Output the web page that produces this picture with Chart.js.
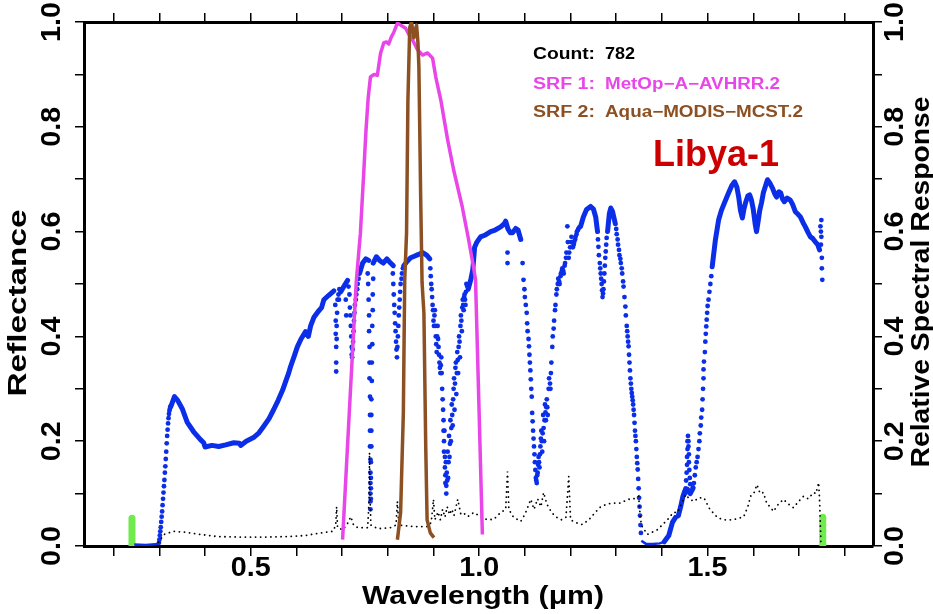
<!DOCTYPE html>
<html>
<head>
<meta charset="utf-8">
<script src="https://cdn.jsdelivr.net/npm/chart.js@4.4.1/dist/chart.umd.min.js"></script>
<style>
    body { margin: 0; background: #fff; }
    #wrap { width: 933px; height: 614px; position: relative; }
</style>
</head>
<body>
<div id="wrap"><canvas id="srfChart"></canvas></div>
<script>
// Axis ticks (every 0.1) and labelled values
const xTicks = [0.2, 0.3, 0.4, 0.5, 0.6, 0.7, 0.8, 0.9, 1.0, 1.1, 1.2, 1.3, 1.4, 1.5, 1.6, 1.7, 1.8];
const xLabels = [0.5, 1.0, 1.5];
const yTicks = [0, 0.1, 0.2, 0.3, 0.4, 0.5, 0.6, 0.7, 0.8, 0.9, 1.0];
const yLabels = [0, 0.2, 0.4, 0.6, 0.8, 1.0];

// Reflectance spectrum, dense parts (drawn as a thick line), null = gap
const reflCurve = [
    [0.325, 0.266], [0.333, 0.285], [0.340, 0.278], [0.350, 0.262], [0.361, 0.236], [0.375, 0.218],
    [0.390, 0.203], [0.397, 0.197], [0.400, 0.189], [0.415, 0.192], [0.430, 0.190], [0.445, 0.193],
    [0.463, 0.197], [0.475, 0.196], [0.478, 0.192], [0.490, 0.200], [0.506, 0.207], [0.518, 0.216],
    [0.528, 0.228], [0.540, 0.243], [0.550, 0.260], [0.560, 0.278], [0.570, 0.298], [0.578, 0.318],
    [0.583, 0.330], [0.587, 0.342], [0.595, 0.362], [0.602, 0.380], [0.610, 0.395], [0.620, 0.409],
    [0.626, 0.400], [0.631, 0.420], [0.638, 0.436], [0.648, 0.448], [0.655, 0.455], [0.660, 0.470],
    [0.670, 0.478], [0.682, 0.487], [0.686, null],
    [0.697, 0.485], [0.705, 0.497], [0.712, 0.507], [0.720, null],
    [0.738, 0.520], [0.745, 0.540], [0.752, 0.548], [0.758, 0.545], [0.762, null],
    [0.768, 0.540], [0.775, 0.552], [0.782, 0.545], [0.790, 0.540], [0.798, 0.548], [0.806, 0.540],
    [0.812, 0.535], [0.820, null],
    [0.835, 0.535], [0.842, 0.543], [0.850, 0.550], [0.858, 0.553], [0.866, 0.556], [0.876, 0.560],
    [0.885, 0.555], [0.892, 0.548], [0.930, null],
    [0.976, 0.490], [0.982, 0.510], [0.986, 0.527], [0.990, 0.570], [0.995, 0.580], [1.003, 0.590],
    [1.012, 0.593], [1.025, 0.600], [1.035, 0.603], [1.047, 0.609], [1.055, 0.615], [1.058, 0.620],
    [1.063, 0.605], [1.068, 0.598], [1.073, 0.598], [1.080, 0.606], [1.085, 0.603], [1.091, 0.585],
    [1.150, null],
    [1.222, 0.610], [1.228, 0.628], [1.235, 0.642], [1.244, 0.648], [1.250, 0.643], [1.255, 0.628],
    [1.259, 0.600], [1.270, null],
    [1.281, 0.600], [1.285, 0.635], [1.288, 0.645], [1.292, 0.638], [1.298, 0.615], [1.350, null],
    [1.405, 0.008], [1.415, 0.020], [1.423, 0.045], [1.430, 0.055], [1.436, 0.058], [1.441, 0.075],
    [1.446, 0.095], [1.450, 0.105], [1.456, 0.108], [1.462, 0.100], [1.468, 0.110], [1.490, null],
    [1.510, 0.533], [1.517, 0.584], [1.524, 0.622], [1.530, 0.640], [1.535, 0.651], [1.546, 0.674],
    [1.553, 0.688], [1.559, 0.695], [1.564, 0.685], [1.568, 0.666], [1.572, 0.640], [1.576, 0.626],
    [1.580, 0.645], [1.583, 0.655], [1.588, 0.668], [1.592, 0.670], [1.596, 0.660], [1.600, 0.642],
    [1.604, 0.615], [1.607, 0.600], [1.611, 0.622], [1.614, 0.640], [1.618, 0.655], [1.622, 0.674],
    [1.627, 0.688], [1.631, 0.699], [1.636, 0.693], [1.642, 0.683], [1.647, 0.672], [1.651, 0.666],
    [1.656, 0.676], [1.660, 0.674], [1.664, 0.662], [1.668, 0.657], [1.674, 0.664], [1.681, 0.660],
    [1.686, 0.652], [1.692, 0.638], [1.698, 0.633], [1.703, 0.628], [1.709, 0.617], [1.714, 0.609],
    [1.720, 0.598], [1.725, 0.590], [1.730, 0.587], [1.736, 0.580], [1.741, 0.575], [1.745, 0.565]
];

// Reflectance near zero (thin line)
const reflFlat = [
    [0.245, 0.003], [0.270, 0.002], [0.298, 0.004], [0.320, null],
    [1.355, 0.010], [1.365, 0.004], [1.380, 0.004], [1.395, 0.005], [1.405, 0.008]
];

// Reflectance, sparse samples on steep edges and absorption bands
const reflDots = [
    [0.299, 0.006], [0.300, 0.012], [0.301, 0.020], [0.302, 0.028], [0.303, 0.036], [0.304, 0.046],
    [0.305, 0.056], [0.306, 0.066], [0.307, 0.078], [0.308, 0.090], [0.309, 0.102], [0.310, 0.114],
    [0.311, 0.126], [0.312, 0.140], [0.313, 0.152], [0.314, 0.166], [0.315, 0.180], [0.316, 0.196],
    [0.317, 0.210], [0.318, 0.222], [0.319, 0.234], [0.320, 0.244], [0.321, 0.252], [0.322, 0.258],
    [0.323, 0.262], [0.324, 0.266],
    [0.685, 0.460], [0.686, 0.430], [0.686, 0.405], [0.687, 0.380], [0.687, 0.350], [0.687, 0.333],
    [0.688, 0.395], [0.688, 0.420], [0.689, 0.445], [0.690, 0.470], [0.692, 0.480], [0.693, 0.470],
    [0.694, 0.490], [0.708, 0.470], [0.709, 0.440],
    [0.714, 0.495], [0.716, 0.480], [0.717, 0.455], [0.718, 0.440], [0.719, 0.420], [0.720, 0.400],
    [0.721, 0.380], [0.721, 0.365], [0.722, 0.360], [0.723, 0.375], [0.724, 0.390], [0.725, 0.410],
    [0.726, 0.430], [0.727, 0.445], [0.728, 0.460], [0.730, 0.470], [0.731, 0.480], [0.733, 0.490],
    [0.734, 0.500], [0.736, 0.510],
    [0.756, 0.520], [0.757, 0.500], [0.758, 0.470], [0.759, 0.440], [0.759, 0.410], [0.760, 0.380],
    [0.760, 0.350], [0.760, 0.320], [0.761, 0.285], [0.761, 0.250], [0.761, 0.220], [0.761, 0.190],
    [0.762, 0.165], [0.762, 0.140], [0.762, 0.120], [0.762, 0.100], [0.762, 0.085], [0.762, 0.070],
    [0.763, 0.090], [0.763, 0.110], [0.763, 0.130], [0.763, 0.160], [0.764, 0.190], [0.764, 0.220],
    [0.764, 0.250], [0.764, 0.280], [0.765, 0.315], [0.765, 0.350], [0.766, 0.385], [0.766, 0.420],
    [0.767, 0.450], [0.767, 0.480], [0.768, 0.510],
    [0.811, 0.520], [0.812, 0.500], [0.813, 0.480], [0.814, 0.460], [0.815, 0.445], [0.816, 0.425],
    [0.817, 0.410], [0.818, 0.390], [0.819, 0.375], [0.820, 0.360], [0.821, 0.380], [0.822, 0.400],
    [0.823, 0.420], [0.824, 0.440], [0.825, 0.455], [0.826, 0.470], [0.827, 0.485], [0.828, 0.500],
    [0.830, 0.510], [0.831, 0.520], [0.833, 0.530],
    [0.893, 0.530], [0.894, 0.515], [0.895, 0.500], [0.896, 0.490], [0.897, 0.475], [0.898, 0.460],
    [0.899, 0.450], [0.900, 0.430], [0.901, 0.420], [0.902, 0.440], [0.903, 0.450], [0.904, 0.420],
    [0.905, 0.400], [0.906, 0.385], [0.907, 0.370], [0.908, 0.400], [0.909, 0.420], [0.910, 0.395],
    [0.911, 0.380], [0.912, 0.365], [0.913, 0.350], [0.914, 0.340], [0.915, 0.330], [0.916, 0.345],
    [0.917, 0.360], [0.918, 0.330], [0.919, 0.300], [0.920, 0.280], [0.921, 0.260], [0.922, 0.220],
    [0.922, 0.240], [0.923, 0.180], [0.923, 0.200], [0.924, 0.220], [0.925, 0.150], [0.925, 0.170],
    [0.926, 0.120], [0.926, 0.135], [0.927, 0.160], [0.928, 0.100], [0.928, 0.115], [0.929, 0.140],
    [0.930, 0.125], [0.931, 0.180], [0.932, 0.130], [0.933, 0.160], [0.934, 0.210], [0.935, 0.170],
    [0.936, 0.195], [0.937, 0.240], [0.938, 0.200], [0.939, 0.225], [0.940, 0.270], [0.941, 0.250],
    [0.942, 0.230], [0.943, 0.280], [0.944, 0.300], [0.945, 0.320], [0.946, 0.260], [0.947, 0.310],
    [0.948, 0.340], [0.949, 0.350], [0.950, 0.290], [0.951, 0.330], [0.952, 0.370], [0.953, 0.355],
    [0.954, 0.330], [0.955, 0.380], [0.956, 0.400], [0.957, 0.390], [0.958, 0.360], [0.959, 0.420],
    [0.960, 0.440], [0.961, 0.430], [0.962, 0.410], [0.963, 0.455], [0.964, 0.470], [0.965, 0.460],
    [0.966, 0.450], [0.967, 0.475], [0.968, 0.480], [0.969, 0.470], [0.970, 0.460], [0.971, 0.485],
    [0.972, 0.500], [0.974, 0.495],
    [1.062, 0.560], [1.062, 0.540],
    [1.095, 0.540], [1.097, 0.508], [1.099, 0.490], [1.100, 0.475], [1.102, 0.460], [1.104, 0.445],
    [1.105, 0.425], [1.106, 0.410], [1.108, 0.395], [1.109, 0.381], [1.110, 0.365], [1.111, 0.350],
    [1.112, 0.335], [1.113, 0.318], [1.114, 0.300], [1.115, 0.285], [1.116, 0.254], [1.117, 0.238],
    [1.118, 0.220], [1.119, 0.205], [1.120, 0.190], [1.121, 0.175], [1.122, 0.160], [1.123, 0.145],
    [1.124, 0.130], [1.125, 0.125], [1.126, 0.120], [1.127, 0.135], [1.128, 0.140], [1.129, 0.155],
    [1.130, 0.170], [1.131, 0.160], [1.132, 0.150], [1.133, 0.175], [1.134, 0.190], [1.135, 0.205],
    [1.136, 0.220], [1.137, 0.200], [1.138, 0.180], [1.139, 0.215], [1.140, 0.250], [1.141, 0.225],
    [1.142, 0.200], [1.143, 0.240], [1.144, 0.270], [1.145, 0.255], [1.146, 0.240], [1.147, 0.265],
    [1.148, 0.280], [1.149, 0.265], [1.150, 0.250], [1.152, 0.300], [1.153, 0.320], [1.155, 0.310],
    [1.156, 0.300], [1.157, 0.330], [1.158, 0.350], [1.160, 0.380], [1.161, 0.400], [1.163, 0.415],
    [1.164, 0.430], [1.166, 0.450], [1.167, 0.460], [1.169, 0.480], [1.170, 0.490], [1.172, 0.500],
    [1.173, 0.510], [1.175, 0.505], [1.176, 0.500], [1.178, 0.515], [1.179, 0.520], [1.181, 0.525],
    [1.182, 0.530], [1.184, 0.525], [1.185, 0.520], [1.187, 0.535], [1.188, 0.540], [1.190, 0.550],
    [1.191, 0.560], [1.193, 0.610], [1.194, 0.580], [1.196, 0.550], [1.197, 0.560], [1.199, 0.570],
    [1.201, 0.580], [1.202, 0.590], [1.204, 0.580], [1.205, 0.570], [1.207, 0.575], [1.208, 0.580],
    [1.210, 0.585], [1.211, 0.590], [1.213, 0.595], [1.214, 0.600], [1.216, 0.603], [1.217, 0.605],
    [1.219, 0.608],
    [1.260, 0.585], [1.261, 0.571], [1.262, 0.555], [1.264, 0.540], [1.265, 0.530], [1.266, 0.520],
    [1.267, 0.510], [1.268, 0.500], [1.269, 0.488], [1.270, 0.475], [1.271, 0.482], [1.272, 0.490],
    [1.273, 0.505], [1.274, 0.520], [1.275, 0.535], [1.276, 0.550], [1.277, 0.562], [1.278, 0.575],
    [1.279, 0.588],
    [1.300, 0.605], [1.301, 0.595], [1.303, 0.585], [1.304, 0.575], [1.306, 0.565], [1.307, 0.555],
    [1.309, 0.548], [1.310, 0.540], [1.312, 0.530], [1.313, 0.520], [1.315, 0.505], [1.316, 0.495],
    [1.318, 0.475], [1.320, 0.457], [1.321, 0.440], [1.323, 0.420], [1.324, 0.410], [1.325, 0.400],
    [1.326, 0.390], [1.327, 0.381], [1.328, 0.365], [1.329, 0.350], [1.330, 0.335], [1.331, 0.320],
    [1.332, 0.310], [1.333, 0.300], [1.334, 0.292], [1.335, 0.285], [1.336, 0.278], [1.337, 0.270],
    [1.338, 0.260], [1.339, 0.250], [1.340, 0.235], [1.341, 0.220], [1.342, 0.210], [1.343, 0.200],
    [1.344, 0.185], [1.345, 0.170], [1.346, 0.158], [1.347, 0.146], [1.348, 0.128], [1.349, 0.110],
    [1.350, 0.092], [1.351, 0.075], [1.352, 0.058], [1.353, 0.040], [1.354, 0.025],
    [1.451, 0.100], [1.452, 0.110], [1.453, 0.125], [1.454, 0.140], [1.455, 0.155], [1.455, 0.170],
    [1.456, 0.185], [1.456, 0.200], [1.457, 0.210], [1.458, 0.200], [1.458, 0.190], [1.459, 0.175],
    [1.459, 0.160], [1.460, 0.145], [1.461, 0.130], [1.462, 0.118],
    [1.468, 0.112], [1.470, 0.120], [1.472, 0.135], [1.474, 0.150], [1.476, 0.160], [1.478, 0.170],
    [1.480, 0.185], [1.482, 0.200], [1.483, 0.215], [1.485, 0.230], [1.486, 0.245], [1.488, 0.260],
    [1.489, 0.280], [1.490, 0.300], [1.491, 0.320], [1.491, 0.337], [1.492, 0.352], [1.494, 0.370],
    [1.495, 0.390], [1.496, 0.405], [1.497, 0.419], [1.498, 0.432], [1.499, 0.445], [1.500, 0.458],
    [1.502, 0.470], [1.504, 0.485], [1.506, 0.500], [1.508, 0.515],
    [1.747, 0.610], [1.748, 0.600], [1.748, 0.575], [1.749, 0.622], [1.749, 0.590], [1.750, 0.550],
    [1.750, 0.530], [1.751, 0.508]
];

// Second (dotted black) spectrum
const dottedSpec = [
    [0.298, 0.007], [0.310, 0.022], [0.331, 0.028], [0.360, 0.026], [0.390, 0.022], [0.427, 0.018],
    [0.480, 0.017], [0.530, 0.017], [0.580, 0.018], [0.620, 0.020], [0.646, 0.024], [0.680, 0.028],
    [0.686, 0.040], [0.688, 0.075], [0.690, 0.035], [0.701, 0.031], [0.710, 0.040], [0.719, 0.056],
    [0.725, 0.040], [0.734, 0.035], [0.756, 0.035], [0.759, 0.090], [0.760, 0.178], [0.761, 0.100],
    [0.763, 0.040], [0.778, 0.033], [0.806, 0.035], [0.818, 0.040], [0.821, 0.085], [0.824, 0.040],
    [0.857, 0.037], [0.887, 0.037], [0.895, 0.045], [0.900, 0.089], [0.903, 0.050], [0.910, 0.065],
    [0.915, 0.050], [0.920, 0.070], [0.925, 0.055], [0.930, 0.075], [0.935, 0.060], [0.940, 0.070],
    [0.945, 0.058], [0.953, 0.089], [0.960, 0.060], [0.967, 0.062], [0.975, 0.056], [0.988, 0.064],
    [1.003, 0.056], [1.018, 0.050], [1.032, 0.051], [1.047, 0.064], [1.058, 0.070], [1.062, 0.142],
    [1.065, 0.070], [1.075, 0.055], [1.091, 0.047], [1.100, 0.060], [1.113, 0.089], [1.120, 0.070],
    [1.128, 0.090], [1.135, 0.075], [1.141, 0.102], [1.148, 0.080], [1.158, 0.065], [1.167, 0.056],
    [1.180, 0.050], [1.190, 0.055], [1.196, 0.133], [1.200, 0.050], [1.210, 0.045], [1.226, 0.041],
    [1.240, 0.050], [1.255, 0.065], [1.266, 0.075], [1.280, 0.080], [1.294, 0.082], [1.310, 0.082],
    [1.325, 0.089], [1.338, 0.090], [1.349, 0.095], [1.353, 0.050], [1.357, 0.037], [1.368, 0.022],
    [1.390, 0.031], [1.412, 0.050], [1.425, 0.064], [1.434, 0.064], [1.452, 0.098], [1.460, 0.090],
    [1.470, 0.085], [1.480, 0.092], [1.492, 0.092], [1.505, 0.070], [1.522, 0.054], [1.535, 0.050],
    [1.551, 0.050], [1.565, 0.052], [1.579, 0.056], [1.588, 0.075], [1.594, 0.095], [1.601, 0.100],
    [1.608, 0.117], [1.615, 0.100], [1.622, 0.102], [1.630, 0.080], [1.637, 0.075], [1.644, 0.066],
    [1.655, 0.080], [1.666, 0.089], [1.677, 0.080], [1.688, 0.073], [1.699, 0.085], [1.710, 0.095],
    [1.720, 0.090], [1.732, 0.102], [1.737, 0.100], [1.743, 0.121], [1.745, 0.090], [1.746, 0.060],
    [1.747, 0.035], [1.748, 0.006]
];

// SRF 1: MetOp-A-AVHRR.2 (right axis)
const srf1 = [
    [0.701, 0.012], [0.716, 0.260], [0.731, 0.505], [0.740, 0.597], [0.748, 0.724], [0.752, 0.790],
    [0.757, 0.855], [0.762, 0.895], [0.770, 0.900], [0.777, 0.898], [0.784, 0.940], [0.791, 0.960],
    [0.797, 0.962], [0.802, 0.958], [0.808, 0.972], [0.813, 0.980], [0.821, 0.998], [0.828, 0.994],
    [0.839, 0.988], [0.847, 0.975], [0.854, 0.966], [0.865, 0.947], [0.876, 0.937], [0.887, 0.941],
    [0.898, 0.931], [0.905, 0.895], [0.916, 0.851], [0.931, 0.775], [0.944, 0.718], [0.963, 0.647],
    [0.977, 0.584], [0.988, 0.530], [0.992, 0.508], [1.000, 0.250], [1.007, 0.022]
];

// SRF 2: Aqua-MODIS-MCST.2 (right axis)
const srf2 = [
    [0.821, 0.012], [0.828, 0.064], [0.834, 0.254], [0.837, 0.508], [0.841, 0.597], [0.844, 0.851],
    [0.848, 0.990], [0.852, 1.000], [0.855, 0.980], [0.857, 0.970], [0.860, 0.985], [0.863, 0.994],
    [0.866, 0.960], [0.868, 0.915], [0.872, 0.661], [0.875, 0.502], [0.879, 0.445], [0.883, 0.190],
    [0.886, 0.050], [0.893, 0.025], [0.901, 0.016]
];

// Short green markers at the spectrum ends
const greenLeft = [[0.240, 0.0], [0.240, 0.053]];
const greenRight = [[1.752, 0.0], [1.752, 0.055]];

const FONT = "'Liberation Sans', Arial, Helvetica, sans-serif";
const BLUE = '#0b2ee8';
const MAGENTA = '#e846e8';
const BROWN = '#8c5022';
const GREEN = '#70ea4c';

// Draw text squeezed / stretched to a target length along its direction
function drawText(ctx, text, x, y, o) {
    ctx.save();
    ctx.translate(x, y);
    if (o.rot) ctx.rotate(o.rot);
    ctx.font = o.font;
    const w = ctx.measureText(text).width;
    if (o.width) ctx.scale(o.width / w, 1);
    ctx.textAlign = o.align || 'center';
    ctx.textBaseline = o.baseline || 'middle';
    ctx.fillStyle = o.color || '#000';
    ctx.fillText(text, 0, 0);
    ctx.restore();
}

const textPlugin = {
    id: 'textPlugin',
    afterDraw(chart) {
        const ctx = chart.ctx;
        const sx = chart.scales.x;
        const sy = chart.scales.y;
        const tickFont = 'bold 27px ' + FONT;

        xLabels.forEach(v => {
            drawText(ctx, v.toFixed(1), sx.getPixelForValue(v), 569, { font: tickFont, width: 40 });
        });
        yLabels.forEach(v => {
            const py = sy.getPixelForValue(v);
            drawText(ctx, v.toFixed(1), 53, py, { font: tickFont, width: 40, rot: -Math.PI / 2 });
            drawText(ctx, v.toFixed(1), 896, py, { font: tickFont, width: 40, rot: -Math.PI / 2 });
        });

        drawText(ctx, 'Wavelength (\u03bcm)', 483, 597, { font: 'bold 25px ' + FONT, width: 242 });
        drawText(ctx, 'Reflectance', 19, 303, { font: 'bold 25px ' + FONT, width: 187, rot: -Math.PI / 2 });
        drawText(ctx, 'Relative Spectral Response', 922, 282, { font: 'bold 25px ' + FONT, width: 371, rot: -Math.PI / 2 });

        const lf = 'bold 16px ' + FONT;
        const left = { font: lf, align: 'left', baseline: 'alphabetic' };
        drawText(ctx, 'Count:', 533, 59, { ...left, width: 62, color: '#000' });
        drawText(ctx, '782', 605, 59, { ...left, width: 30, color: '#000' });
        drawText(ctx, 'SRF 1:', 533, 88.5, { ...left, width: 62, color: MAGENTA });
        drawText(ctx, 'MetOp\u2212A\u2212AVHRR.2', 605, 88.5, { ...left, width: 175, color: MAGENTA });
        drawText(ctx, 'SRF 2:', 533, 117, { ...left, width: 62, color: BROWN });
        drawText(ctx, 'Aqua\u2212MODIS\u2212MCST.2', 605, 117, { ...left, width: 198, color: BROWN });

        drawText(ctx, 'Libya-1', 653, 166, { font: 'bold 37px ' + FONT, align: 'left', baseline: 'alphabetic', width: 126, color: '#cc0000' });
    }
};

// Axis helper: ticks every 0.1, drawn outside, no labels, fixed box size
function axis(position, min, max, ticks, size, tickLength) {
    const horizontal = position === 'top' || position === 'bottom';
    return {
        type: 'linear',
        position: position,
        min: min,
        max: max,
        afterBuildTicks: s => { s.ticks = ticks.map(v => ({ value: v })); },
        afterFit: s => { if (horizontal) s.height = size; else s.width = size; },
        ticks: { display: false },
        grid: { drawOnChartArea: false, drawTicks: true, tickLength: tickLength, color: '#000', lineWidth: 1.5 },
        border: { display: true, color: '#000', width: 3 }
    };
}

const ctx = document.getElementById('srfChart').getContext('2d');
new Chart(ctx, {
    type: 'scatter',
    data: {
        datasets: [
            { label: 'SRF 2', data: srf2, yAxisID: 'y2', showLine: true, borderColor: BROWN, borderWidth: 3.5, pointRadius: 0, borderJoinStyle: 'round' },
            { label: 'SRF 1', data: srf1, yAxisID: 'y2', showLine: true, borderColor: MAGENTA, borderWidth: 3.5, pointRadius: 0, borderJoinStyle: 'round' },
            { label: 'dotted', data: dottedSpec, showLine: true, borderColor: '#000', borderWidth: 1.8, borderDash: [0.1, 5], borderCapStyle: 'round', pointRadius: 0 },
            { label: 'reflDots', data: reflDots, showLine: false, pointRadius: 2.4, pointBorderWidth: 0, backgroundColor: BLUE },
            { label: 'reflCurve', data: reflCurve, showLine: true, spanGaps: false, borderColor: BLUE, borderWidth: 5, pointRadius: 0, borderJoinStyle: 'round', borderCapStyle: 'round' },
            { label: 'reflFlat', data: reflFlat, showLine: true, spanGaps: false, borderColor: BLUE, borderWidth: 2.5, pointRadius: 0 },
            { label: 'greenL', data: greenLeft, showLine: true, borderColor: GREEN, borderWidth: 7, borderCapStyle: 'round', pointRadius: 0 },
            { label: 'greenR', data: greenRight, showLine: true, borderColor: GREEN, borderWidth: 7, borderCapStyle: 'round', pointRadius: 0 }
        ]
    },
    options: {
        responsive: true,
        maintainAspectRatio: false,
        animation: false,
        layout: { padding: 0 },
        plugins: { legend: { display: false }, tooltip: { enabled: false } },
        scales: {
            x: axis('bottom', 0.135, 1.862, xTicks, 68, 10),
            x2: axis('top', 0.135, 1.862, xTicks, 22, 9),
            y: axis('left', 0, 1, yTicks, 84, 9),
            y2: axis('right', 0, 1, yTicks, 60, 9)
        }
    },
    plugins: [textPlugin]
});
</script>
</body>
</html>
